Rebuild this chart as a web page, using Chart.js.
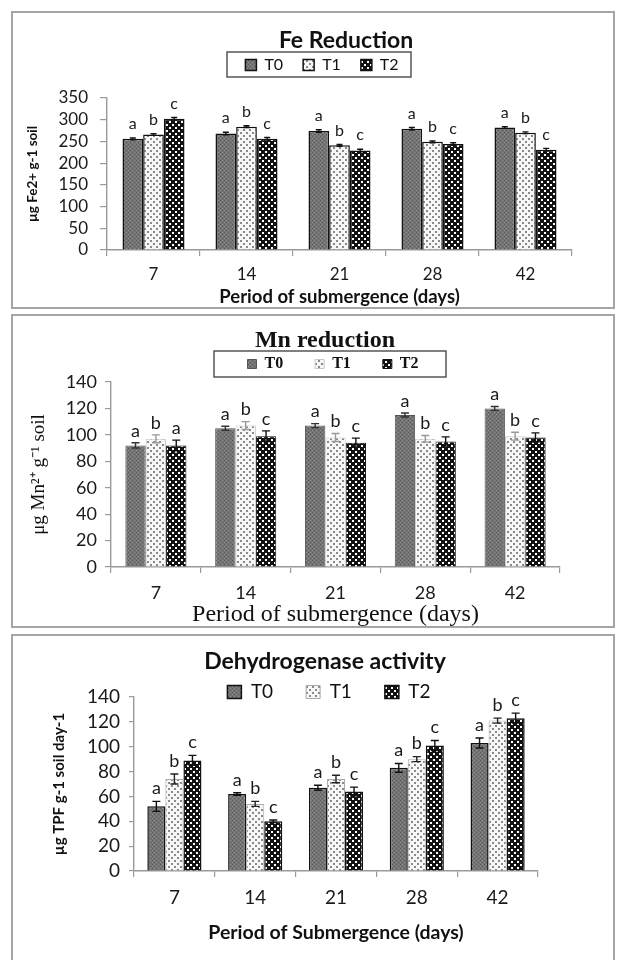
<!DOCTYPE html>
<html><head><meta charset="utf-8">
<script src="https://cdn.jsdelivr.net/npm/chart.js@4.4.1/dist/chart.umd.min.js"></script>
<style>
html,body{margin:0;padding:0;background:#fff;width:623px;height:960px;overflow:hidden;position:relative;}
.frame{position:absolute;border:2px solid #a5a5a5;box-sizing:border-box;}
canvas{position:absolute;left:0;}
</style></head><body>
<div class="frame" style="left:11px;top:11px;width:604px;height:298px"></div>
<div class="frame" style="left:11px;top:314px;width:604px;height:314px"></div>
<div class="frame" style="left:11px;top:634px;width:604px;height:340px"></div>
<canvas id="c1" width="623" height="312" style="top:0"></canvas>
<canvas id="c2" width="623" height="320" style="top:312px"></canvas>
<canvas id="c3" width="623" height="328" style="top:632px"></canvas>
<script>
// ---------------- DATA ----------------
const days = ['7', '14', '21', '28', '42'];
const treatments = ['T0', 'T1', 'T2'];

// Fe reduction (µg Fe2+ g-1 soil)
const feT0 = [256, 268, 274, 279, 282];
const feT1 = [266, 284, 241, 249, 270];
const feT2 = [302, 256, 229, 244, 231];
const feErrT0 = [2, 3, 3, 3, 2];
const feErrT1 = [2, 2, 2, 2, 2];
const feErrT2 = [3, 3, 3, 3, 3];
const feLetT0 = ['a', 'a', 'a', 'a', 'a'];
const feLetT1 = ['b', 'b', 'b', 'b', 'b'];
const feLetT2 = ['c', 'c', 'c', 'c', 'c'];
const feTicks = [0, 50, 100, 150, 200, 250, 300, 350];

// Mn reduction (µg Mn2+ g-1 soil)
const mnT0 = [92, 105, 107, 115, 120];
const mnT1 = [97, 107, 98, 97, 99];
const mnT2 = [92, 99, 94, 95, 98];
const mnErrT0 = [2, 1.5, 1.5, 1.5, 1.5];
const mnErrT1 = [3, 3, 3, 2.5, 3];
const mnErrT2 = [4, 4, 3.5, 3.5, 3.5];
const mnLetT0 = ['a', 'a', 'a', 'a', 'a'];
const mnLetT1 = ['b', 'b', 'b', 'b', 'b'];
const mnLetT2 = ['a', 'c', 'c', 'c', 'c'];
const mnTicks = [0, 20, 40, 60, 80, 100, 120, 140];

// Dehydrogenase activity (µg TPF g-1 soil day-1)
const dhT0 = [52, 62, 67, 83, 103];
const dhT1 = [74, 54, 74, 90, 121];
const dhT2 = [89, 40, 64, 101, 123];
const dhErrT0 = [4, 1, 2, 3.5, 4];
const dhErrT1 = [4, 2, 3, 2, 2];
const dhErrT2 = [4, 1, 3.5, 4, 4];
const dhLetT0 = ['a', 'a', 'a', 'a', 'a'];
const dhLetT1 = ['b', 'b', 'b', 'b', 'b'];
const dhLetT2 = ['c', 'c', 'c', 'c', 'c'];
const dhTicks = [0, 20, 40, 60, 80, 100, 120, 140];

// ---------------- PATTERNS ----------------
function tile(size, base, spots) {
  const c = document.createElement('canvas');
  c.width = size; c.height = size;
  const g = c.getContext('2d');
  g.fillStyle = base; g.fillRect(0, 0, size, size);
  spots.forEach(s => { g.fillStyle = s[4]; g.fillRect(s[0], s[1], s[2], s[3]); });
  return g.createPattern(c, 'repeat');
}
const patT0 = tile(4, '#747474', [[0,0,1,1,'#595959'],[2,2,1,1,'#595959'],[2,0,1,1,'#8e8e8e'],[0,2,1,1,'#8e8e8e']]);
const patT1 = tile(6, '#f7f7f7', [[0,0,2,2,'#8a8a8a'],[3,3,2,2,'#8a8a8a']]);
const patT2 = tile(6, '#121212', [[1,1,2,2,'#ffffff'],[4,4,2,2,'#ffffff']]);
const patterns = [patT0, patT1, patT2];

// ---------------- PLUGINS ----------------
function fontStr(f) { return (f.weight || 'normal') + ' ' + f.size + 'px ' + f.family; }

const placer = {
  id: 'placer',
  afterLayout(chart, args, o) {
    const t = chart.titleBlock;
    if (t && o.tx !== undefined) {
      const lh = o.tSize * 1.2;
      t.left = o.tx - 300; t.right = o.tx + 300; t.width = 600;
      t.top = o.ty - lh / 2; t.bottom = t.top + lh; t.height = lh;
    }
    const L = chart.legend;
    if (L && o.lx !== undefined) {
      const w = L.right - L.left;
      L.left = o.lx - w / 2; L.right = L.left + w;
      L.top = o.ly - o.lPad - o.lItemH / 2;
      L.height = o.lItemH + o.lPad + 20;
      L.bottom = L.top + L.height;
    }
  },
  afterDraw(chart, args, o) {
    if (!o.frame) return;
    const ctx = chart.ctx, f = o.frame;
    ctx.save();
    ctx.strokeStyle = '#555'; ctx.lineWidth = 1.5;
    ctx.strokeRect(f.x, f.y, f.w, f.h);
    ctx.restore();
  }
};

const annot = {
  id: 'annot',
  afterDatasetsDraw(chart, args, o) {
    const ctx = chart.ctx, y = chart.scales.y;
    chart.data.datasets.forEach((ds, i) => {
      const meta = chart.getDatasetMeta(i);
      meta.data.forEach((bar, j) => {
        const v = ds.data[j], e = ds.errors[j];
        const yt = y.getPixelForValue(v + e), yb = y.getPixelForValue(v - e);
        ctx.save();
        ctx.strokeStyle = ds.errColor; ctx.lineWidth = o.errWidth;
        ctx.beginPath();
        ctx.moveTo(bar.x, yt); ctx.lineTo(bar.x, yb);
        ctx.moveTo(bar.x - o.cap, yt); ctx.lineTo(bar.x + o.cap, yt);
        ctx.moveTo(bar.x - o.cap, yb); ctx.lineTo(bar.x + o.cap, yb);
        ctx.stroke();
        ctx.fillStyle = '#1a1a1a';
        ctx.font = fontStr(o.font);
        ctx.textAlign = 'center'; ctx.textBaseline = 'middle';
        ctx.fillText(ds.letters[j], bar.x, yt - o.gap);
        ctx.restore();
      });
    });
  }
};

// ---------------- BUILDER ----------------
function build(id, H, s, series) {
  const titleH = s.title.font.size * 1.2;
  const yTitleLh = s.yTitle.font.size * 1.2;
  const xTitleLh = s.xTitle.font.size * 1.2;
  const tickLh = s.tickFont.size * 1.2;
  const itemH = Math.max(s.legend.font.size, s.legend.boxH);
  const datasets = series.map((d, i) => ({
    label: treatments[i],
    data: d.values,
    errors: d.errors,
    letters: d.letters,
    errColor: s.errColors[i],
    backgroundColor: patterns[i],
    borderColor: s.borders[i],
    borderWidth: s.borderWidths[i],
    categoryPercentage: s.catPct,
    barPercentage: 1.0
  }));
  return new Chart(document.getElementById(id), {
    type: 'bar',
    data: { labels: days, datasets },
    options: {
      responsive: false,
      animation: false,
      events: [],
      layout: {
        autoPadding: false,
        padding: { left: 0, right: 623 - s.plot.r, top: s.plot.t - titleH - 1, bottom: 0 }
      },
      plugins: {
        title: { display: true, text: s.title.text, color: '#111', font: Object.assign({lineHeight: 1.2}, s.title.font), padding: 0 },
        legend: {
          display: true, position: 'top', maxHeight: 1,
          labels: { boxWidth: s.legend.boxW, boxHeight: s.legend.boxH, padding: s.legend.pad, color: '#111', font: s.legend.font }
        },
        tooltip: { enabled: false },
        placer: { tx: s.title.x, ty: s.title.y, tSize: s.title.font.size, lx: s.legend.x, ly: s.legend.y, lPad: s.legend.pad, lItemH: itemH, frame: s.legend.frame },
        annot: { errWidth: 1.4, cap: s.cap, gap: s.letterGap, font: s.letterFont }
      },
      scales: {
        x: {
          offset: true,
          grid: { display: true, offset: true, drawOnChartArea: false, drawTicks: true, tickLength: s.xTickLen, color: '#9a9a9a', lineWidth: 1.2 },
          border: { display: true, color: '#9a9a9a', width: 1.4 },
          ticks: { color: '#1a1a1a', font: s.tickFont, padding: s.xLabelY - s.plot.b - s.xTickLen - tickLh / 2, maxRotation: 0, autoSkip: false },
          title: { display: true, text: s.xTitle.text, color: '#111', font: s.xTitle.font, padding: { top: 0, bottom: H - s.xTitle.y - xTitleLh / 2 } },
          afterFit(scale) { scale.height = H - s.plot.b; }
        },
        y: {
          min: s.yMin, max: s.yMax,
          afterBuildTicks(scale) { scale.ticks = s.ticks.map(v => ({ value: v })); },
          grid: { display: true, drawOnChartArea: false, drawTicks: true, tickLength: s.yTickLen, color: '#9a9a9a', lineWidth: 1.2 },
          border: { display: true, color: '#9a9a9a', width: 1.4 },
          ticks: { color: '#1a1a1a', font: s.tickFont, padding: s.yTickPad, autoSkip: false },
          title: { display: true, text: s.yTitle.text, color: '#111', font: s.yTitle.font, padding: { top: s.yTitle.x - yTitleLh / 2, bottom: 0 } },
          afterFit(scale) { scale.width = s.plot.l; }
        }
      }
    },
    plugins: [placer, annot]
  });
}

// ---------------- CHART 1: Fe ----------------
build('c1', 312, {
  plot: { l: 107, r: 572, t: 98, b: 250 },
  yMin: 0, yMax: 350, ticks: feTicks,
  title: { text: 'Fe Reduction', font: { family: 'Lato', size: 23, weight: 'bold' }, x: 346, y: 41 },
  legend: { font: { family: 'Lato', size: 16 }, boxW: 11, boxH: 11, pad: 20, x: 322, y: 65, frame: { x: 227, y: 52, w: 184, h: 25 } },
  yTitle: { text: 'µg Fe2+ g-1 soil', font: { family: 'Lato', size: 13.5, weight: 'bold' }, x: 33 },
  xTitle: { text: 'Period of submergence (days)', font: { family: 'Lato', size: 18.5, weight: 'bold' }, y: 297 },
  tickFont: { family: 'Lato', size: 17 },
  yTickLen: 7, yTickPad: 12, xTickLen: 6, xLabelY: 275,
  letterFont: { family: 'Lato', size: 16 }, letterGap: 14, cap: 3,
  catPct: 0.667,
  borders: ['#111', '#111', '#111'], borderWidths: [1.5, 1.5, 1.5],
  errColors: ['#111', '#111', '#111']
}, [
  { values: feT0, errors: feErrT0, letters: feLetT0 },
  { values: feT1, errors: feErrT1, letters: feLetT1 },
  { values: feT2, errors: feErrT2, letters: feLetT2 }
]);

// ---------------- CHART 2: Mn ----------------
build('c2', 320, {
  plot: { l: 111, r: 560, t: 70, b: 255 },
  yMin: 0, yMax: 140, ticks: mnTicks,
  title: { text: 'Mn reduction', font: { family: 'Liberation Serif', size: 24, weight: 'bold' }, x: 325, y: 29 },
  legend: { font: { family: 'Liberation Serif', size: 16, weight: 'bold' }, boxW: 9, boxH: 9, pad: 32, x: 333, y: 52, frame: { x: 214, y: 39, w: 232, h: 26 } },
  yTitle: { text: 'μg Mn²⁺ g⁻¹ soil', font: { family: 'Liberation Serif', size: 19 }, x: 39 },
  xTitle: { text: 'Period of submergence (days)', font: { family: 'Liberation Serif', size: 24 }, y: 303 },
  tickFont: { family: 'Lato', size: 18 },
  yTickLen: 6, yTickPad: 8, xTickLen: 6, xLabelY: 281,
  letterFont: { family: 'Lato', size: 18 }, letterGap: 12, cap: 4,
  catPct: 0.68,
  borders: ['#555', '#c8c8c8', '#111'], borderWidths: [1, 1, 1],
  errColors: ['#333', '#999', '#111']
}, [
  { values: mnT0, errors: mnErrT0, letters: mnLetT0 },
  { values: mnT1, errors: mnErrT1, letters: mnLetT1 },
  { values: mnT2, errors: mnErrT2, letters: mnLetT2 }
]);

// ---------------- CHART 3: Dehydrogenase ----------------
build('c3', 328, {
  plot: { l: 134, r: 538, t: 65, b: 239 },
  yMin: 0, yMax: 140, ticks: dhTicks,
  title: { text: 'Dehydrogenase activity', font: { family: 'Lato', size: 23, weight: 'bold' }, x: 325, y: 30 },
  legend: { font: { family: 'Lato', size: 19 }, boxW: 14, boxH: 13, pad: 33, x: 329, y: 60, frame: null },
  yTitle: { text: 'µg TPF g-1 soil day-1', font: { family: 'Lato', size: 15, weight: 'bold' }, x: 59.5 },
  xTitle: { text: 'Period of Submergence (days)', font: { family: 'Lato', size: 19.5, weight: 'bold' }, y: 301 },
  tickFont: { family: 'Lato', size: 19 },
  yTickLen: 5, yTickPad: 9, xTickLen: 6, xLabelY: 266,
  letterFont: { family: 'Lato', size: 18 }, letterGap: 13, cap: 4,
  catPct: 0.67,
  borders: ['#111', '#aaaaaa', '#111'], borderWidths: [1.5, 1, 1.5],
  errColors: ['#111', '#222', '#111']
}, [
  { values: dhT0, errors: dhErrT0, letters: dhLetT0 },
  { values: dhT1, errors: dhErrT1, letters: dhLetT1 },
  { values: dhT2, errors: dhErrT2, letters: dhLetT2 }
]);
</script>
</body></html>
